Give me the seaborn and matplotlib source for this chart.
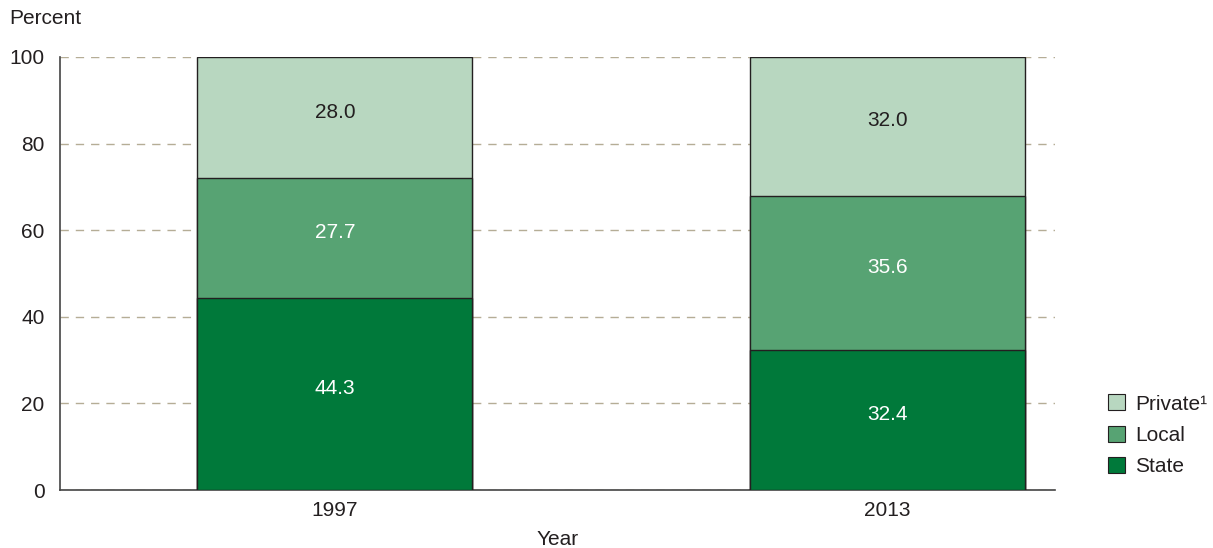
import matplotlib
matplotlib.use("Agg")
import matplotlib.pyplot as plt
import seaborn as sns
import pandas as pd
import numpy as np
from matplotlib.patches import Patch

years = ["1997", "2013"]
state = [44.3, 32.4]
local = [27.7, 35.6]
private = [28.0, 32.0]
series_names = ["Private¹", "Local", "State"]
colors = {"State": "#00793A", "Local": "#57A373", "Private": "#B8D7C0"}
text_dark = "#231F20"

sns.set_theme(style="white")
plt.rcParams['font.family'] = ['Liberation Sans', 'DejaVu Sans']

df = pd.DataFrame({"Year": years, "State": state, "Local": local, "Private": private})
df["cum_state"] = df["State"]
df["cum_local"] = df["State"] + df["Local"]
df["cum_private"] = df["cum_local"] + df["Private"]

fig = plt.figure(figsize=(12.13, 5.48), dpi=100)
ax = fig.add_axes([60/1213, 1 - 490/548, (1055-60)/1213, (490-57)/548])

w = 0.498
for col, key in [("cum_private", "Private"), ("cum_local", "Local"), ("cum_state", "State")]:
    sns.barplot(data=df, x="Year", y=col, color=colors[key], width=w, ax=ax,
                edgecolor="#231F20", linewidth=1.0, saturation=1, zorder=3)

fs = 15
ax.set_xlim(-0.498, 1.304)
ax.set_ylim(0, 100)
ax.set_yticks([0, 20, 40, 60, 80, 100])
ax.yaxis.grid(True, linestyle=(0, (6, 5)), color="#B5AD96", linewidth=1.0, zorder=0)
ax.set_axisbelow(True)
ax.tick_params(axis='both', length=0, labelsize=fs, colors=text_dark, pad=8)
ax.tick_params(axis='y', pad=11)
for s in ["top", "right"]:
    ax.spines[s].set_visible(False)
for s in ["left", "bottom"]:
    ax.spines[s].set_color("#444444")
    ax.spines[s].set_linewidth(1.2)
ax.set_ylabel("")
ax.set_xlabel("Year", fontsize=fs, color=text_dark, labelpad=7)

# value labels
for i in range(len(years)):
    segs = [(state[i], 0, "white"), (local[i], state[i], "white"),
            (private[i], state[i] + local[i], text_dark)]
    for val, base, c in segs:
        ax.annotate(f"{val:.1f}", xy=(i, base + val / 2), xytext=(0, 4),
                    textcoords="offset points", ha="center", va="center",
                    fontsize=fs, color=c, zorder=5)

fig.text(9/1213, 1 - 18/548, "Percent", fontsize=fs, color=text_dark, ha="left", va="center")

handles = [Patch(facecolor=colors["Private"], edgecolor="#231F20", linewidth=0.8),
           Patch(facecolor=colors["Local"], edgecolor="#231F20", linewidth=0.8),
           Patch(facecolor=colors["State"], edgecolor="#231F20", linewidth=0.8)]
leg = fig.legend(handles, series_names, loc="upper left",
                 bbox_to_anchor=(1100/1213, 1 - 386/548), frameon=False,
                 fontsize=fs, handlelength=0.8, handleheight=0.8,
                 handletextpad=0.5, labelspacing=0.58, borderaxespad=0)
for t in leg.get_texts():
    t.set_color(text_dark)

fig.savefig("out.png", dpi=100)
